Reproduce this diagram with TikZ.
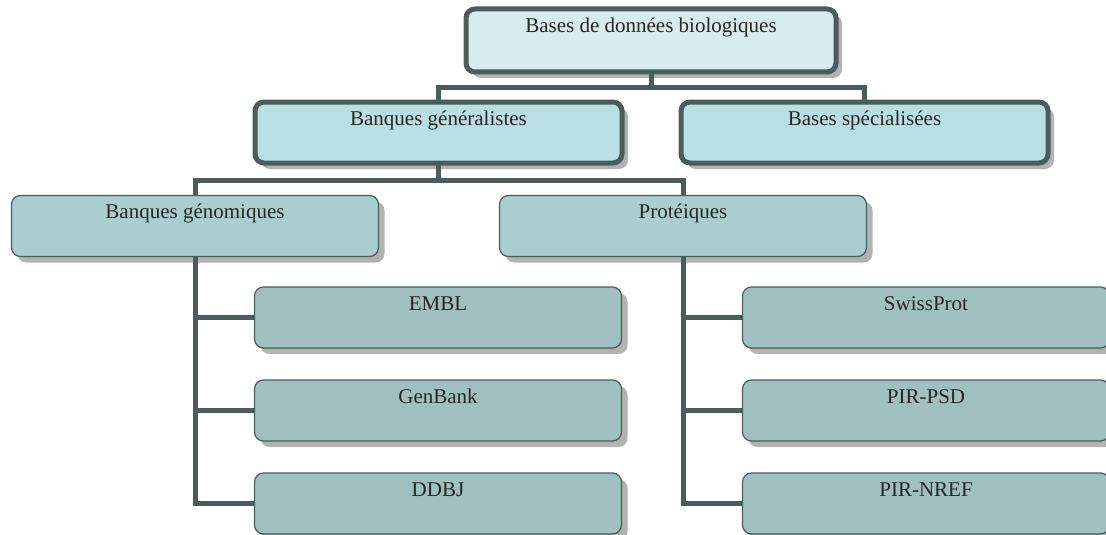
\documentclass[tikz,border=0pt]{standalone}
\usepackage{fontspec}
\setmainfont{Liberation Serif}
\usetikzlibrary{positioning,shadows}
\definecolor{bordgris}{HTML}{4A5C5C}
\definecolor{fondA}{HTML}{D6ECEF}
\definecolor{fondB}{HTML}{B9DFE3}
\definecolor{fondC}{HTML}{AACDD0}
\definecolor{fondD}{HTML}{A0BFC1}
\begin{document}
\begin{tikzpicture}[x=1pt,y=1pt,node distance=32pt,
		base node/.style={rectangle,rounded corners=9pt,draw=bordgris,outer sep=0pt,inner sep=0pt,minimum width=367pt,minimum height=61pt,text height=23pt,text depth=38pt,font=\fontsize{21}{24}\selectfont,text=black!85,drop shadow={shadow xshift=6pt,shadow yshift=-6pt,fill=black!30,opacity=1}},
		haut node/.style={base node,fill=fondA,line width=5pt},
		gen node/.style={base node,fill=fondB,line width=5pt},
		sous node/.style={base node,fill=fondC,line width=1.2pt},
		feuille node/.style={base node,fill=fondD,line width=1.2pt},
		lien/.style={draw=bordgris,line width=5pt}]
		\useasboundingbox (0,0) rectangle (1106,-535);
		
		\node[haut node,minimum width=370pt,minimum height=63pt] (bdd) at (651,-40.5) {Bases de données biologiques};
		\node[gen node] (gen) at (438.5,-132.5) {Banques généralistes};
		\node[gen node] (spec) [right=59pt of gen] {Bases spécialisées};
		\node[sous node] (geno) at (195,-226) {Banques génomiques};
		\node[sous node] (prot) [right=121pt of geno] {Protéiques};
		
		\node[feuille node] (embl) at (438,-317.5) {EMBL};
		\node[feuille node] (genbank) [below=of embl] {GenBank};
		\node[feuille node] (ddbj) [below=of genbank] {DDBJ};
		\node[feuille node] (swiss) [right=121pt of embl] {SwissProt};
		\node[feuille node] (psd) [below=of swiss] {PIR-PSD};
		\node[feuille node] (nref) [below=of psd] {PIR-NREF};
		
		\draw[lien] (bdd.south) -- ++(0,-16) -| (gen.north);
		\draw[lien] (bdd.south) -- ++(0,-16) -| (spec.north);
		\draw[lien] (gen.south) -- ++(0,-17) -| (geno.north);
		\draw[lien] (gen.south) -- ++(0,-17) -| (prot.north);
		
		\draw[lien] (geno.south) |- (embl.west);
		\draw[lien] (geno.south) |- (genbank.west);
		\draw[lien] (geno.south) |- (ddbj.west);
		\draw[lien] (prot.south) |- (swiss.west);
		\draw[lien] (prot.south) |- (psd.west);
		\draw[lien] (prot.south) |- (nref.west);
\end{tikzpicture}
\end{document}
